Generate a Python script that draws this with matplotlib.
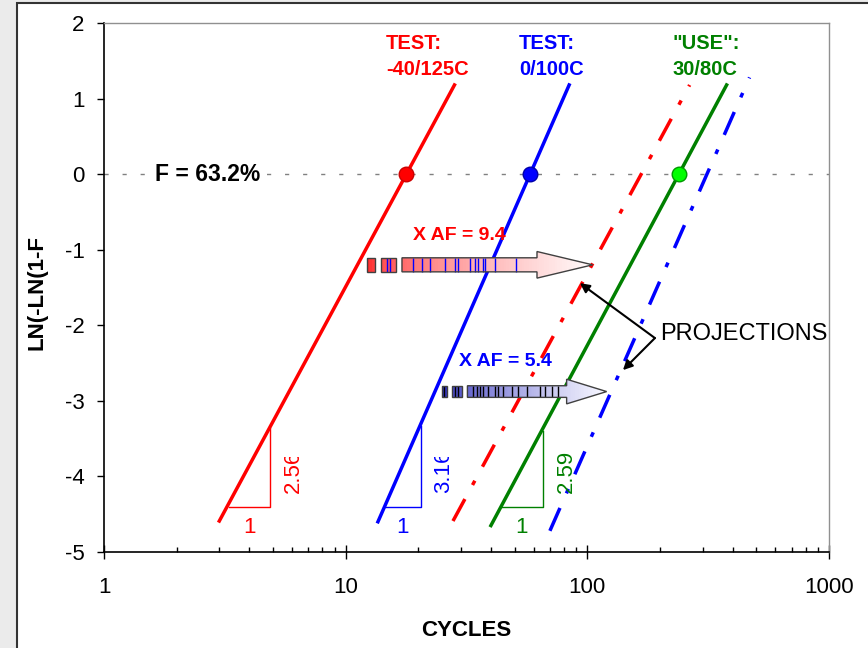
import matplotlib
matplotlib.use('Agg')
import matplotlib.pyplot as plt
import numpy as np
from matplotlib.patches import Rectangle, Polygon
from matplotlib.transforms import Bbox, TransformedBbox

plt.rcParams['font.family'] = 'Liberation Sans'
plt.rcParams['axes.unicode_minus'] = False

# straight Weibull lines (end points)
red_x = [3.0, 28.2]
red_y = [-4.59, 1.18]
blue_x = [13.6, 84.1]
blue_y = [-4.60, 1.18]
green_x = [39.9, 377.0]
green_y = [-4.65, 1.18]
red_proj_x = [27.8, 265.0]
red_proj_y = [-4.59, 1.18]
blue_proj_x = [70.0, 469.0]
blue_proj_y = [-4.72, 1.28]

# characteristic life (63.2%) points
eta_x = [17.8, 57.9, 239.0]
eta_y = [0.0, 0.0, 0.0]

# slope triangles: x of foot, x of corner, y of foot, y of top
tri_red = ([3.29, 4.86, 4.86], [-4.40, -4.40, -3.36])
tri_blue = ([14.54, 20.5, 20.5], [-4.40, -4.40, -3.33])
tri_green = ([43.9, 65.5, 65.5], [-4.40, -4.40, -3.40])
slopes = ['2.56', '3.16', '2.59']

af_labels = ['X AF = 9.4', 'X AF = 5.4']

RED = '#ff0000'
BLUE = '#0000ff'
GREEN = '#008000'

fig = plt.figure(figsize=(8.68, 6.48), dpi=100, facecolor='#ebebeb')
# chart area
fig.patches.append(Rectangle((17 / 868, -0.02), 1.05, 1 - 2.5 / 648 + 0.02,
                             transform=fig.transFigure, facecolor='white',
                             edgecolor='#333333', lw=1.5, zorder=-10))

ax = fig.add_axes([104 / 868, 1 - 552 / 648, 725 / 868, 529 / 648])
ax.set_facecolor('none')
ax.set_xscale('log')
ax.set_xlim(1, 1000)
ax.set_ylim(-5, 2)
ax.set_xticks([1, 10, 100, 1000])
ax.set_xticklabels(['1', '10', '100', '1000'])
ax.set_yticks(range(-5, 3))
ax.tick_params(axis='x', which='major', direction='inout', length=9.5, width=1,
               labelsize=16, pad=13.5)
ax.tick_params(axis='x', which='minor', direction='in', length=3.5, width=1)
ax.tick_params(axis='y', which='major', direction='out', length=5, width=1,
               labelsize=16, pad=9)
for s in ['top', 'right']:
    ax.spines[s].set_color('#909090')
    ax.spines[s].set_linewidth(1)
for s in ['left', 'bottom']:
    ax.spines[s].set_color('black')
    ax.spines[s].set_linewidth(1.2)

ax.set_xlabel('CYCLES', fontsize=16, fontweight='bold')
ax.xaxis.set_label_coords(0.5, -0.128)
ax.set_ylabel('LN(-LN(1-F', fontsize=16, fontweight='bold')
ax.yaxis.set_label_coords(-0.078, 0.49)

# 63.2% line
ax.axhline(0, color='#808080', lw=1, ls=(0, (3, 10)), zorder=1)
ax.text(1.626, 0, 'F = 63.2%', fontsize=16.5, fontweight='bold', va='center',
        ha='left', bbox=dict(fc='white', ec='none', pad=2), zorder=2)

lw = 2.5
dashdot = (0, (7.2, 4.6, 1.4, 4.6))
ax.plot(red_x, red_y, color=RED, lw=lw, zorder=3)
ax.plot(blue_x, blue_y, color=BLUE, lw=lw, zorder=3)
ax.plot(green_x, green_y, color=GREEN, lw=lw, zorder=3)
ax.plot(red_proj_x, red_proj_y, color=RED, lw=lw, ls=dashdot, zorder=3)
ax.plot(blue_proj_x, blue_proj_y, color=BLUE, lw=lw, ls=dashdot, zorder=3)

for x, y, fc, ec in zip(eta_x, eta_y, [RED, BLUE, '#00ff00'],
                        ['#cc0000', '#0000aa', '#009900']):
    ax.plot(x, y, 'o', ms=10.5, mfc=fc, mec=ec, mew=1, zorder=6)

# slope triangles
clip = TransformedBbox(Bbox([[1, -6], [1000, -3.74]]), ax.transData)
for (tx, ty), col, lab, clipped in zip([tri_red, tri_blue, tri_green],
                                       [RED, BLUE, GREEN], slopes,
                                       [True, True, False]):
    ax.plot(tx, ty, color=col, lw=1, zorder=2)
    xm = np.sqrt(tx[0] * tx[1])
    ax.text(xm, -4.67, '1', color=col, fontsize=16, ha='center', va='center')
    t = ax.text(tx[1] * 1.245, -4.22, lab, color=col, fontsize=16,
                rotation=90, ha='center', va='bottom')
    if clipped:
        t.set_clip_box(clip)
        t.set_clip_on(True)

# condition labels
for x, txt, col in zip([14.7, 52.1, 226], ['TEST:\n-40/125C', 'TEST:\n0/100C',
                                           '"USE":\n30/80C'], [RED, BLUE, GREEN]):
    ax.text(x, 1.56, txt, color=col, fontsize=14.5, fontweight='bold',
            ha='left', va='center', linespacing=1.45)


def gradient_arrow(boxes, x0, xh, xt, yc, hb, hh, c0, c1, stripes, scol):
    shapes = []
    for bx0, bx1 in boxes:
        shapes.append([(bx0, yc - hb), (bx1, yc - hb), (bx1, yc + hb), (bx0, yc + hb)])
    shapes.append([(x0, yc - hb), (xh, yc - hb), (xh, yc - hh), (xt, yc),
                   (xh, yc + hh), (xh, yc + hb), (x0, yc + hb)])
    start = boxes[0][0]
    edges = np.logspace(np.log10(start), np.log10(xt), 90)
    c0 = np.array(c0)
    c1 = np.array(c1)
    for verts in shapes:
        outline = Polygon(verts, closed=True, transform=ax.transData,
                          fill=False, ec='#404040', lw=1, zorder=5)
        for i in range(len(edges) - 1):
            t = (i / (len(edges) - 2)) ** 0.6
            r = Rectangle((edges[i], yc - hh), edges[i + 1] * 1.01 - edges[i], 2 * hh,
                          fc=c0 + (c1 - c0) * t, ec='none', lw=0, zorder=4)
            ax.add_patch(r)
            r.set_clip_path(outline)
        ax.add_patch(outline)
    ax.vlines(stripes, yc - hb, yc + hb, colors=scol, lw=1, zorder=4.5)


gradient_arrow([(12.22, 13.22), (13.96, 16.1)], 17.1, 61.9, 105.2, -1.20,
               0.093, 0.176, (1.0, 0.15, 0.15), (1.0, 0.98, 0.98),
               [14.8, 15.3, 18.98, 20.7, 22.3, 25.8, 28.3, 29.2, 32.7, 34.3,
                35.3, 37.0, 37.7, 41.5, 50.7], BLUE)
gradient_arrow([(24.95, 26.2), (27.5, 30.2)], 31.9, 82.1, 120.2, -2.877,
               0.077, 0.163, (0.12, 0.12, 0.72), (0.97, 0.97, 1.0),
               [25.5, 28.3, 29.2, 33.6, 34.9, 35.9, 37.0, 38.8, 41.5, 42.7,
                44.8, 48.8, 51.6, 56.2, 63.7, 66.8, 71.4, 75.6], 'black')

ax.text(18.98, -0.807, af_labels[0], color=RED, fontsize=14, fontweight='bold',
        ha='left', va='center')
ax.text(29.4, -2.474, af_labels[1], color=BLUE, fontsize=14, fontweight='bold',
        ha='left', va='center')

# projections callout
ax.text(199.7, -2.116, 'PROJECTIONS', fontsize=17, ha='left', va='center')
for tip in [(93.2, -1.442), (140.4, -2.593)]:
    ax.annotate('', xy=tip, xytext=(190.4, -2.169),
                arrowprops=dict(arrowstyle='-|>', color='black', lw=1.5,
                                mutation_scale=14, shrinkA=0, shrinkB=0),
                zorder=7)

fig.savefig('out.png', dpi=100, facecolor=fig.get_facecolor())
